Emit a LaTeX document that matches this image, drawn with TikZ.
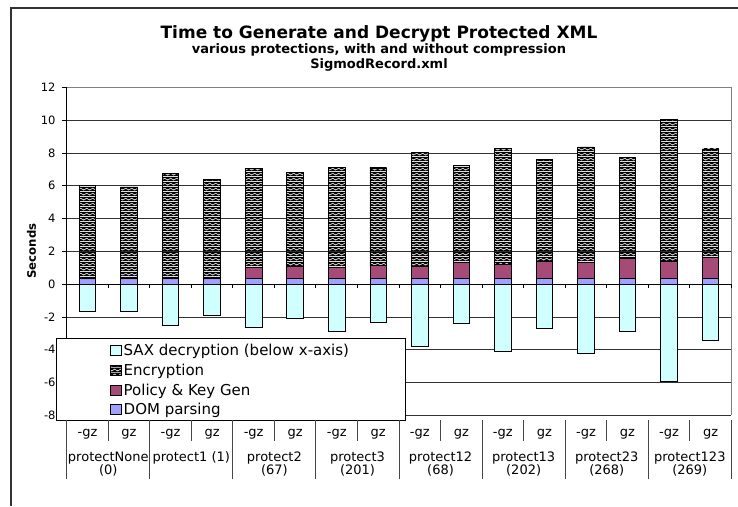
\documentclass[tikz,border=0pt]{standalone}
\usepackage{fontspec}
\setmainfont{DejaVu Sans}
\usetikzlibrary{patterns}
\definecolor{saxc}{RGB}{208,255,255}
\definecolor{polc}{RGB}{166,74,120}
\definecolor{domc}{RGB}{160,160,255}
\definecolor{gridc}{RGB}{50,50,50}
\definecolor{borderc}{RGB}{128,128,128}
\definecolor{framec}{RGB}{50,50,50}
\definecolor{tablec}{RGB}{70,70,70}
\definecolor{wavec}{RGB}{105,105,105}
\pgfdeclarepatterninherentlycolored{zigwave}{\pgfpointorigin}{\pgfpoint{5.6pt}{5pt}}{\pgfpoint{5.6pt}{5pt}}{%
  \pgfsetfillcolor{black}%
  \pgfpathrectangle{\pgfpointorigin}{\pgfpoint{5.6pt}{5pt}}%
  \pgfusepath{fill}%
  \pgfsetmiterjoin
  \pgfsetlinewidth{0.95pt}%
  \pgfsetstrokecolor{wavec}%
  \pgfpathmoveto{\pgfpoint{-2.8pt}{3.3pt}}%
  \pgfpathlineto{\pgfpoint{0pt}{1.3pt}}%
  \pgfpathlineto{\pgfpoint{2.8pt}{3.3pt}}%
  \pgfpathlineto{\pgfpoint{5.6pt}{1.3pt}}%
  \pgfpathlineto{\pgfpoint{8.4pt}{3.3pt}}%
  \pgfusepath{stroke}%
  \pgfsetlinewidth{0.4pt}%
  \pgfsetstrokecolor{white}%
  \pgfpathmoveto{\pgfpoint{-2.8pt}{3.3pt}}%
  \pgfpathlineto{\pgfpoint{0pt}{1.3pt}}%
  \pgfpathlineto{\pgfpoint{2.8pt}{3.3pt}}%
  \pgfpathlineto{\pgfpoint{5.6pt}{1.3pt}}%
  \pgfpathlineto{\pgfpoint{8.4pt}{3.3pt}}%
  \pgfusepath{stroke}%
}
\begin{document}
\begin{tikzpicture}[x=1pt,y=-1pt,
  gridline/.style={draw=gridc, line width=0.9pt},
  plotborder/.style={draw=borderc, line width=1pt},
  axisline/.style={draw=black, line width=0.9pt},
  barline/.style={draw=black, line width=0.8pt},
  tableline/.style={draw=tablec, line width=0.9pt},
  titletext/.style={font=\bfseries\fontsize{17}{20}\selectfont, anchor=base, inner sep=0pt},
  subtext/.style={font=\bfseries\fontsize{13}{15}\selectfont, anchor=base, inner sep=0pt},
  ticktext/.style={font=\fontsize{11.5}{13}\selectfont, anchor=east, inner sep=0pt},
  legtext/.style={font=\fontsize{15}{17}\selectfont, anchor=base west, inner sep=0pt},
  cattext/.style={font=\fontsize{13}{13.5}\selectfont, inner sep=0pt, align=center}]
\useasboundingbox (0,0) rectangle (738,506);
\fill[white] (0,0) rectangle (738,506);
% outer frame
\draw[framec, line width=1.4pt] (11,506) -- (11,8) -- (738,8);
% titles
\node[titletext] (title) at (379,38.5) {Time to Generate and Decrypt Protected XML};
\node[subtext] (subtitle) at (379,53) {various protections, with and without compression};
\node[subtext] (filename) at (379,68) {SigmodRecord.xml};
% axis title
\node[font=\bfseries\fontsize{11.7}{13}\selectfont, rotate=90, inner sep=0pt] (ytitle) at (31.5,251) {Seconds};
% plot
\begin{scope}[shift={(66.7,284.2)}, x=41.54pt, y=16.4pt]
  \foreach \v in {-8,-6,...,10} \draw[gridline] (0,\v) -- (16,\v);
  \draw[plotborder] (0,12) -- (16,12) -- (16,-8);
  \foreach \i/\s/\d/\p/\t in {0/-1.65/0.33/0.33/6.03, 1/-1.65/0.33/0.33/5.93,
      2/-2.54/0.33/0.33/6.75, 3/-1.89/0.33/0.33/6.40, 4/-2.66/0.33/1.04/7.04,
      5/-2.11/0.33/1.06/6.79, 6/-2.87/0.33/1.04/7.11, 7/-2.30/0.33/1.16/7.09,
      8/-3.80/0.33/1.10/8.05, 9/-2.42/0.33/1.30/7.26, 10/-4.08/0.33/1.20/8.27,
      11/-2.72/0.33/1.40/7.62, 12/-4.21/0.33/1.30/8.37, 13/-2.86/0.33/1.57/7.74,
      14/-5.90/0.33/1.42/10.06, 15/-3.41/0.33/1.63/8.25} {
    \draw[barline, fill=saxc] (\i+0.3,0) rectangle (\i+0.7,\s);
    \draw[barline, fill=domc] (\i+0.3,0) rectangle (\i+0.7,\d);
    \draw[barline, fill=polc] (\i+0.3,\d) rectangle (\i+0.7,\p);
    \draw[barline, pattern=zigwave] (\i+0.3,\p) rectangle (\i+0.7,\t);
  }
  \draw[axisline] (0,12) -- (0,-8);
  \draw[axisline] (0,0) -- (16,0);
  \foreach \k in {1,...,16} \draw[axisline] (\k,0) -- ++(0pt,-4pt);
  \foreach \v in {-8,-6,...,12} {
    \draw[axisline] (0,\v) -- ++(-4.5pt,0pt);
    \node[ticktext] (yl\v) at ([xshift=-11pt]0,\v) {\v};
  }
\end{scope}
% legend
\draw[draw=black, line width=0.9pt, fill=white] (56.7,338.3) rectangle (405,420);
\draw[barline, fill=saxc] (110,345) rectangle (121,355);
\node[legtext] (lsax) at (123.5,355) {SAX decryption (below x-axis)};
\draw[barline, pattern=zigwave] (110,365) rectangle (121,375);
\node[legtext] (lenc) at (123.5,375) {Encryption};
\draw[barline, fill=polc] (110,385) rectangle (121,395);
\node[legtext] (lpol) at (123.5,395) {Policy \& Key Gen};
\draw[barline, fill=domc] (110,404.5) rectangle (121,414.5);
\node[legtext] (ldom) at (123.5,414.5) {DOM parsing};
% category table
\foreach \k in {0,...,8} \draw[tableline] ({66.7+83.08*\k},420) -- ({66.7+83.08*\k},479);
\foreach \k in {0,...,7} \draw[tableline] ({108.24+83.08*\k},420) -- ({108.24+83.08*\k},440.7);
\foreach \k in {0,...,7} {
  \node[cattext, anchor=base] (m\k) at ({87.47+83.08*\k},436.5) {-gz};
  \node[cattext, anchor=base] (p\k) at ({129.01+83.08*\k},436.5) {gz};
}
\foreach \k/\lab in {0/{protectNone\\(0)}, 1/{protect1 (1)}, 2/{protect2\\(67)},
    3/{protect3\\(201)}, 4/{protect12\\(68)}, 5/{protect13\\(202)},
    6/{protect23\\(268)}, 7/{protect123\\(269)}}
  \node[cattext, anchor=north] (g\k) at ({108.24+83.08*\k},451.5) {\lab};
\end{tikzpicture}
\end{document}
